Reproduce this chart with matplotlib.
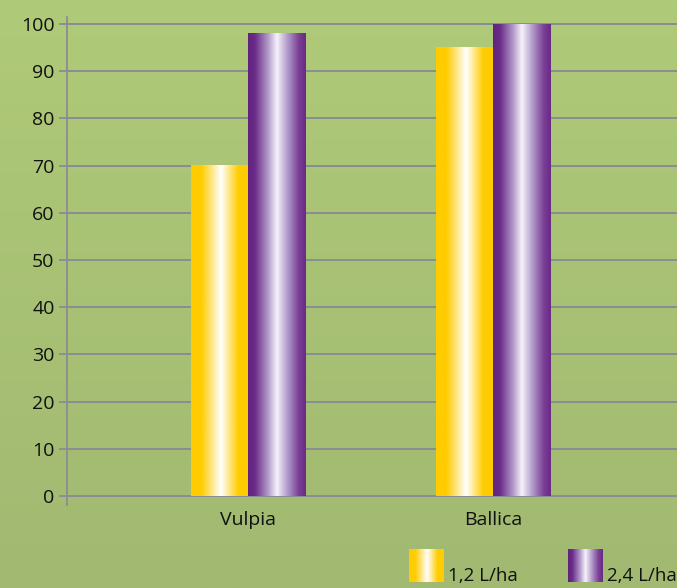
import numpy as np
import matplotlib
matplotlib.use("Agg")
import matplotlib.pyplot as plt
from matplotlib.colors import LinearSegmentedColormap

# -----------------------------
# Data
# -----------------------------
categories = ["Vulpia", "Ballica"]
series_names = ["1,2 L/ha", "2,4 L/ha"]
dose_low = [70, 95]
dose_high = [98, 100]
y_ticks = [0, 10, 20, 30, 40, 50, 60, 70, 80, 90, 100]

plt.rcParams["font.family"] = ["Open Sans", "DejaVu Sans"]

# gradient colormaps for the bars
yellow_cm = LinearSegmentedColormap.from_list("yel", [
    (0.0, "#ffcc00"), (0.18, "#ffcc00"), (0.52, "#ffffff"),
    (0.82, "#ffcc00"), (1.0, "#ffcc00")])
purple_cm = LinearSegmentedColormap.from_list("pur", [
    (0.0, "#62237f"), (0.12, "#6a2c88"), (0.35, "#b39ccb"), (0.5, "#f6f2fa"),
    (0.68, "#b39ccb"), (0.88, "#7a3f95"), (1.0, "#692a86")])
grad = np.linspace(0, 1, 256).reshape(1, -1)

fig = plt.figure(figsize=(6.77, 5.88), dpi=100)

# background green gradient
bg = fig.add_axes([0, 0, 1, 1], zorder=-5)
bg_cm = LinearSegmentedColormap.from_list("bg", ["#afca78", "#a1b971"])
bg.imshow(np.linspace(0, 1, 256).reshape(-1, 1), cmap=bg_cm, aspect="auto",
          extent=[0, 1, 0, 1], origin="upper")
bg.axis("off")

ax = fig.add_axes([0.099, 0.1412, 0.901, 0.8299])
ax.patch.set_alpha(0)

x = np.arange(len(categories))
w = 0.233
offs = [-0.118, 0.116]

for vals, off, cm in [(dose_low, offs[0], yellow_cm), (dose_high, offs[1], purple_cm)]:
    for xi, v in zip(x, vals):
        ax.imshow(grad, cmap=cm, aspect="auto", zorder=3,
                  extent=[xi + off - w / 2, xi + off + w / 2, 0, v])

ax.set_xlim(-0.739, 1.751)
ax.set_ylim(-1.9, 101.5)

ax.set_yticks(y_ticks)
ax.set_xticks(x)
ax.set_xticklabels(categories)
ax.tick_params(axis="y", length=6, width=1.3, color="#8a8c92", labelsize=14,
               labelcolor="#111111", pad=3)
ax.tick_params(axis="x", length=0, labelsize=14, labelcolor="#111111", pad=4)

ax.grid(axis="y", color="#8a8c92", linewidth=1.4, zorder=1)
ax.set_axisbelow(True)
for s in ["top", "right", "bottom"]:
    ax.spines[s].set_visible(False)
ax.spines["left"].set_color("#8a8c92")
ax.spines["left"].set_linewidth(1.3)

# legend (gradient swatches)
W, H = 677, 588
for cm, name, lx in [(yellow_cm, series_names[0], 409), (purple_cm, series_names[1], 568)]:
    sw = fig.add_axes([lx / W, 1 - 582 / H, 35 / W, 33 / H])
    sw.imshow(grad, cmap=cm, aspect="auto")
    sw.axis("off")
    fig.text((lx + 39) / W, 1 - 581 / H, name, fontsize=13.5, color="#111111",
             ha="left", va="baseline")

fig.savefig("out.png", dpi=100)
